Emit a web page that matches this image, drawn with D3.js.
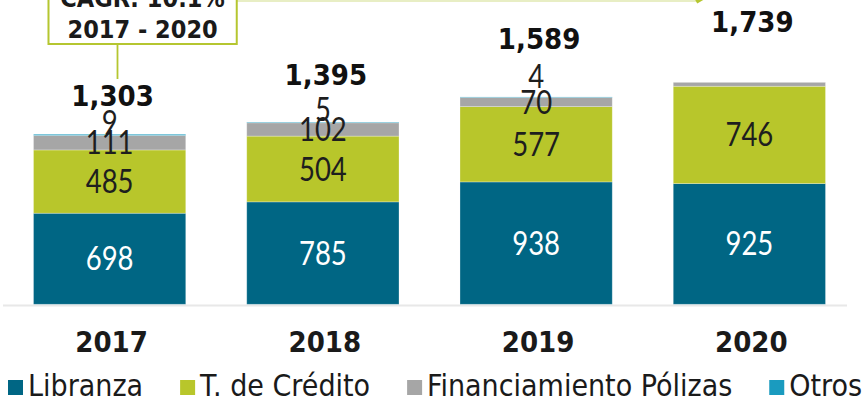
<!DOCTYPE html>
<html>
<head>
<meta charset="utf-8">
<script src="https://cdn.jsdelivr.net/npm/d3@7"></script>
<style>
  body { margin: 0; background: #fff; }
  svg { display: block; }
</style>
</head>
<body>
<div class="chart"></div>
<script>
(function () {

	// Data
	var years = ["2017", "2018", "2019", "2020"];
	var libranza = [698, 785, 938, 925];
	var credito = [485, 504, 577, 746];
	var polizas = [111, 102, 70, 30];
	var otros = [9, 5, 4, 0];
	var totals = ["1,303", "1,395", "1,589", "1,739"];
	var seriesNames = ["Libranza", "T. de Crédito", "Financiamiento Pólizas", "Otros"];
	var cagrLines = ["CAGR: 10.1%", "2017 - 2020"];

	// Layout tweaks for the labels
	var showSmall = [true, true, true, false];
	var otrosLift = [12, 13, 20, 0];
	var totalLift = [39, 48, 58, 61];

	var width = 864, height = 405;
	var baseY = 304.3;
	var colors = ["#006684", "#b8c62b", "#a6a6a6", "#1a9bbf"];

	var svg = d3.select(".chart")
		.append("svg")
		.attr("width", width)
		.attr("height", height);

	// Scales
	var xScale = d3.scaleBand()
		.domain(years)
		.range([3, 856])
		.paddingInner(0.286)
		.paddingOuter(0.143);

	var yScale = d3.scaleLinear()
		.domain([0, 2332])
		.range([baseY, 0]);

	// Build the table for the stack
	var table = years.map(function (y, i) {
		return { year: y, i: i, s0: libranza[i], s1: credito[i], s2: polizas[i], s3: otros[i] };
	});
	var stack = d3.stack().keys(["s0", "s1", "s2", "s3"]);
	var layers = stack(table);

	// Axis line
	svg.append("line")
		.attr("x1", 3).attr("x2", 847)
		.attr("y1", baseY + 1.2).attr("y2", baseY + 1.2)
		.attr("stroke", "#e8e8e8")
		.attr("stroke-width", 2.2);

	// Bars
	var layerG = svg.append("g").selectAll("g")
		.data(layers)
		.enter()
		.append("g")
		.attr("fill", function (d, k) { return colors[k]; });

	layerG.selectAll("rect")
		.data(function (d) { return d; })
		.enter()
		.append("rect")
		.attr("x", function (d) { return xScale(d.data.year); })
		.attr("y", function (d) { return yScale(d[1]); })
		.attr("width", xScale.bandwidth())
		.attr("height", function (d) { return yScale(d[0]) - yScale(d[1]); })
		.attr("stroke", function (d) { return d[1] > d[0] ? "rgba(255,255,255,0.35)" : "none"; })
		.attr("stroke-width", 0.8);

	// Segment labels
	var segFont = "Lato, 'Open Sans', sans-serif";
	function segLabel(x, y, txt, fill) {
		svg.append("text")
			.attr("transform", "translate(" + x + "," + y + ") scale(0.86,1)")
			.attr("text-anchor", "middle")
			.attr("dy", "0.36em")
			.style("font-family", segFont)
			.style("font-size", "32px")
			.style("fill", fill)
			.text(txt);
	}

	layers.forEach(function (layer, k) {
		layer.forEach(function (d, i) {
			var cx = xScale(d.data.year) + xScale.bandwidth() / 2;
			var val = d[1] - d[0];
			if (k < 2) {
				segLabel(cx, (yScale(d[0]) + yScale(d[1])) / 2, val, k == 0 ? "#fff" : "#1e1e1e");
			} else if (k == 2 && showSmall[i]) {
				segLabel(cx, (yScale(d[0]) + yScale(d[1])) / 2, val, "#1e1e1e");
			} else if (k == 3 && showSmall[i]) {
				segLabel(cx, yScale(d[1]) - otrosLift[i], val, "#1e1e1e");
			}
		});
	});

	// Totals
	var boldFont = "'DejaVu Sans Condensed', 'DejaVu Sans', sans-serif";
	svg.append("g").selectAll("text")
		.data(table)
		.enter()
		.append("text")
		.attr("x", function (d) { return xScale(d.year) + xScale.bandwidth() / 2 + 3; })
		.attr("y", function (d) { return yScale(d.s0 + d.s1 + d.s2 + d.s3) - totalLift[d.i]; })
		.attr("dy", "0.36em")
		.attr("text-anchor", "middle")
		.style("font-family", boldFont)
		.style("font-weight", "bold")
		.style("font-size", "29px")
		.style("fill", "#111")
		.text(function (d) { return totals[d.i]; });

	// Year labels
	svg.append("g").selectAll("text")
		.data(years)
		.enter()
		.append("text")
		.attr("x", function (d) { return xScale(d) + xScale.bandwidth() / 2 + 2; })
		.attr("y", 352)
		.attr("text-anchor", "middle")
		.style("font-family", boldFont)
		.style("font-weight", "bold")
		.style("font-size", "29px")
		.style("fill", "#1a1a1a")
		.text(function (d) { return d; });

	// CAGR annotation
	var boxL = xScale("2017") + 15, boxR = xScale("2018") - 10;
	var arrowX = xScale("2020") + 30;
	var green = "#b5c630";

	svg.append("line")
		.attr("x1", boxR).attr("x2", arrowX - 6)
		.attr("y1", 0.8).attr("y2", 0.8)
		.attr("stroke", "#e8eec4")
		.attr("stroke-width", 2.5);

	svg.append("path")
		.attr("d", "M" + (arrowX - 8) + ",0 L" + arrowX + ",0 L" + (arrowX - 6) + ",3.5 Z")
		.attr("fill", green);

	svg.append("line")
		.attr("x1", boxL + 69).attr("x2", boxL + 69)
		.attr("y1", 44).attr("y2", 79)
		.attr("stroke", green)
		.attr("stroke-width", 1.8);

	svg.append("rect")
		.attr("x", boxL).attr("y", -12)
		.attr("width", boxR - boxL).attr("height", 56)
		.attr("fill", "#fff")
		.attr("stroke", green)
		.attr("stroke-width", 2);

	svg.append("g").selectAll("text")
		.data(cagrLines)
		.enter()
		.append("text")
		.attr("x", (boxL + boxR) / 2)
		.attr("y", function (d, i) { return 7 + i * 31; })
		.attr("text-anchor", "middle")
		.style("font-family", boldFont)
		.style("font-weight", "bold")
		.style("font-size", "25px")
		.style("fill", "#1a1a1a")
		.text(function (d) { return d; });

	// Legend
	var legendG = svg.append("g");
	var lx = 8;
	seriesNames.forEach(function (name, k) {
		legendG.append("rect")
			.attr("x", lx).attr("y", 380)
			.attr("width", 15).attr("height", 15)
			.attr("fill", colors[k]);
		var t = legendG.append("text")
			.attr("x", lx + 20).attr("y", 396)
			.style("font-family", "'DejaVu Sans Condensed', 'DejaVu Sans', sans-serif")
			.style("font-size", "30px")
			.style("fill", "#1a1a1a")
			.text(name);
		lx += 20 + t.node().getComputedTextLength() + 37;
	});
})();
</script>
</body>
</html>
